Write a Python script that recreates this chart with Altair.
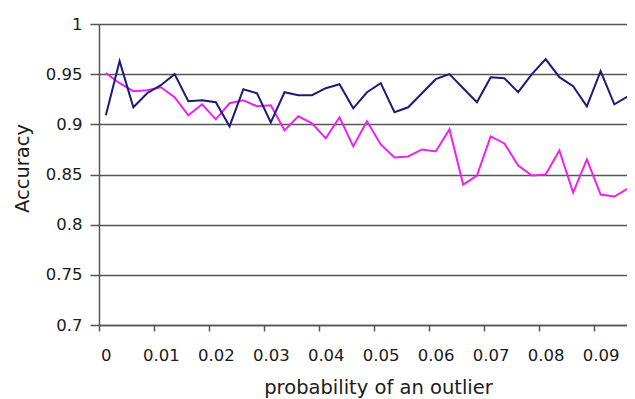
import altair as alt
import pandas as pd

# category values of the x axis (probability of an outlier)
probability = [0.0, 0.0025, 0.005, 0.0075, 0.01, 0.0125, 0.015, 0.0175,
               0.02, 0.0225, 0.025, 0.0275, 0.03, 0.0325, 0.035, 0.0375,
               0.04, 0.0425, 0.045, 0.0475, 0.05, 0.0525, 0.055, 0.0575,
               0.06, 0.0625, 0.065, 0.0675, 0.07, 0.0725, 0.075, 0.0775,
               0.08, 0.0825, 0.085, 0.0875, 0.09, 0.0925, 0.095, 0.0975]

series_blue = [0.909, 0.963, 0.917, 0.931, 0.939, 0.950, 0.923, 0.924,
               0.922, 0.898, 0.935, 0.931, 0.902, 0.932, 0.929, 0.929,
               0.936, 0.940, 0.916, 0.932, 0.941, 0.912, 0.917, 0.931,
               0.945, 0.950, 0.936, 0.922, 0.947, 0.946, 0.932, 0.950,
               0.965, 0.947, 0.938, 0.918, 0.953, 0.920, 0.928, 0.949]

series_magenta = [0.951, 0.941, 0.933, 0.934, 0.937, 0.927, 0.909, 0.920,
                  0.905, 0.921, 0.924, 0.918, 0.919, 0.894, 0.908, 0.901,
                  0.886, 0.907, 0.878, 0.903, 0.880, 0.867, 0.868, 0.875,
                  0.873, 0.895, 0.840, 0.849, 0.888, 0.881, 0.859, 0.849,
                  0.850, 0.874, 0.832, 0.865, 0.830, 0.828, 0.836, 0.838]

x_tick_values = [0.0, 0.01, 0.02, 0.03, 0.04, 0.05, 0.06, 0.07, 0.08, 0.09]
y_tick_values = [0.7, 0.75, 0.8, 0.85, 0.9, 0.95, 1.0]

df_blue = pd.DataFrame({"p": probability, "acc": series_blue})
df_mag = pd.DataFrame({"p": probability, "acc": series_magenta})

FONT = "DejaVu Sans"
GRID = "#555555"
HALF_CAT = 6.87

x_enc = alt.X(
    "p:Q",
    scale=alt.Scale(domain=[-0.00125, 0.0948], nice=False, zero=False),
    axis=alt.Axis(
        values=x_tick_values,
        format="~g",
        grid=False,
        domainColor=GRID,
        domainWidth=1.5,
        tickColor=GRID,
        tickWidth=1.5,
        tickSize=6,
        tickOffset=-HALF_CAT,
        labelOffset=HALF_CAT,
        labelFlush=False,
        labelPadding=16,
        labelFont=FONT,
        labelFontSize=16.5,
        labelColor="#1a1a1a",
        title="probability of an outlier",
        titleFont=FONT,
        titleFontSize=19.5,
        titleFontWeight="normal",
        titleColor="#1a1a1a",
        titleX=279,
        titleY=68,
        titleAlign="center",
        titleBaseline="alphabetic",
    ),
)

y_enc = alt.Y(
    "acc:Q",
    scale=alt.Scale(domain=[0.7, 1.0], nice=False, zero=False),
    axis=alt.Axis(
        values=y_tick_values,
        format="~g",
        grid=True,
        gridColor=GRID,
        gridWidth=1.5,
        domainColor=GRID,
        domainWidth=1.5,
        tickColor=GRID,
        tickWidth=1.5,
        tickSize=9,
        labelPadding=8,
        labelFont=FONT,
        labelFontSize=16.5,
        labelColor="#1a1a1a",
        title="Accuracy",
        titleFont=FONT,
        titleFontSize=19.5,
        titleFontWeight="normal",
        titleColor="#1a1a1a",
        titleX=-76.5,
        titleY=144,
        titleAngle=270,
        titleAlign="center",
        titleBaseline="middle",
    ),
)

mag = alt.Chart(df_mag).mark_line(color="#ee22ee", strokeWidth=2, clip=True).encode(x=x_enc, y=y_enc)
blue = alt.Chart(df_blue).mark_line(color="#1c1c78", strokeWidth=2, clip=True).encode(x=x_enc, y=y_enc)

chart = (
    alt.layer(mag, blue)
    .properties(
        width=528,
        height=301,
        autosize=alt.AutoSizeParams(type="none"),
        padding={"left": 91, "top": 16, "right": 0, "bottom": 74},
        background="white",
    )
    .configure_view(strokeWidth=0)
)

chart.save("out.html", embed_options={"renderer": "svg", "actions": False})
